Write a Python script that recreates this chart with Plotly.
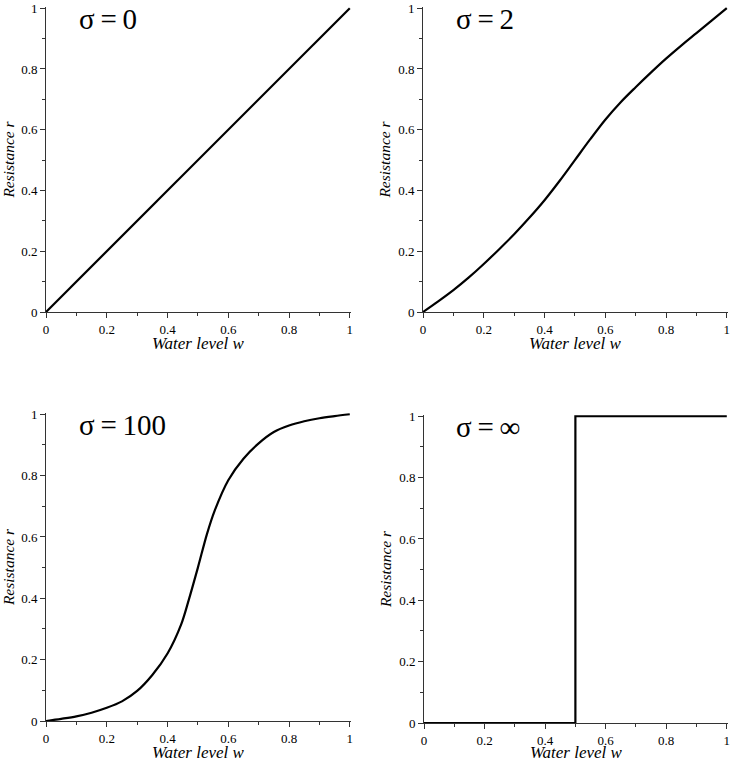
import plotly.graph_objects as go

# ---- data ----
w_s0 = [0.0, 1.0]
r_s0 = [0.0, 1.0]

w_s2 = [0.0, 0.05, 0.1, 0.15, 0.2, 0.25, 0.3, 0.35, 0.4, 0.45, 0.5,
        0.55, 0.6, 0.65, 0.7, 0.75, 0.8, 0.85, 0.9, 0.95, 1.0]
r_s2 = [0.0, 0.035, 0.072, 0.113, 0.158, 0.206, 0.256, 0.31, 0.368, 0.432, 0.5,
        0.568, 0.633, 0.69, 0.74, 0.788, 0.834, 0.877, 0.918, 0.959, 1.0]

w_s100 = [0.0, 0.05, 0.1, 0.15, 0.2, 0.25, 0.3, 0.35, 0.4, 0.445, 0.47, 0.5,
          0.53, 0.555, 0.6, 0.65, 0.7, 0.75, 0.8, 0.85, 0.9, 0.95, 1.0]
r_s100 = [0.0, 0.007, 0.015, 0.027, 0.043, 0.064, 0.098, 0.15, 0.22, 0.315, 0.395, 0.5,
          0.61, 0.685, 0.785, 0.855, 0.905, 0.942, 0.963, 0.977, 0.987, 0.994, 1.0]

w_sinf = [0.0, 0.5, 0.5, 1.0]
r_sinf = [0.0, 0.0, 1.0, 1.0]

labels = ["σ\u2009=\u20090", "σ\u2009=\u20092", "σ\u2009=\u2009100", "σ\u2009=\u2009∞"]
series = [(w_s0, r_s0, "linear"), (w_s2, r_s2, "spline"),
          (w_s100, r_s100, "spline"), (w_sinf, r_sinf, "linear")]

x_title = "Water level w"
y_title = "Resistance r"
tick_vals = [0, 0.2, 0.4, 0.6, 0.8, 1]
tick_text = ["0", "0.2", "0.4", "0.6", "0.8", "1"]
minor_vals = [0.1, 0.3, 0.5, 0.7, 0.9]

W, H = 733, 761
# plot areas in pixels (left, right, top, bottom) and x-title centre (px from top)
boxes = [(46, 351, 7, 312), (423, 728, 7, 312), (46, 351, 413, 721), (424, 728, 415, 723)]
xtitle_y = [343, 343, 752, 752]

FONT = "Liberation Serif"

fig = go.Figure()
for i, ((wx, ry, shp), (l, r, t, b)) in enumerate(zip(series, boxes)):
    n = "" if i == 0 else str(i + 1)
    fig.add_trace(go.Scatter(x=wx, y=ry, mode="lines",
                             line=dict(color="black", width=2.2, shape=shp, smoothing=0.9),
                             xaxis="x" + n, yaxis="y" + n, showlegend=False,
                             hoverinfo="skip"))
    axcommon = dict(
        range=[0, 1.004], tickvals=tick_vals, ticktext=tick_text,
        ticks="outside", ticklen=5, tickwidth=1, tickcolor="#333",
        showline=True, linecolor="#333", linewidth=1,
        showgrid=False, zeroline=False, mirror=False, automargin=False,
        tickfont=dict(family=FONT, size=13, color="black"),
        minor=dict(tickvals=minor_vals, ticks="outside",
                   ticklen=3, tickcolor="#333", showgrid=False),
    )
    fig.layout["xaxis" + n] = dict(axcommon, domain=[l / W, r / W], anchor="y" + n)
    fig.layout["yaxis" + n] = dict(
        axcommon, domain=[1 - b / H, 1 - t / H], anchor="x" + n,
        title=dict(text="<i>" + y_title + "</i>", standoff=3,
                   font=dict(family=FONT, size=15.5, color="black")),
    )
    # x-axis title (as annotation so it is not pushed inside the page edge)
    fig.add_annotation(text="<i>" + x_title + "</i>", xref=("x" + n) + " domain", yref="paper",
                       x=0.5, y=1 - xtitle_y[i] / H, xanchor="center", yanchor="middle",
                       showarrow=False, font=dict(family=FONT, size=17, color="black"))
    fig.add_annotation(text=labels[i], xref=("x" + n) + " domain", yref=("y" + n) + " domain",
                       x=0.1, y=0.96, xanchor="left", yanchor="middle",
                       showarrow=False, font=dict(family=FONT, size=29, color="black"))

fig.update_layout(width=W, height=H, margin=dict(l=0, r=0, t=0, b=0),
                  paper_bgcolor="white", plot_bgcolor="white")
fig.write_html("out.html", config={"displayModeBar": False},
               post_script="document.body.style.margin='0px';document.body.style.overflow='hidden';")
